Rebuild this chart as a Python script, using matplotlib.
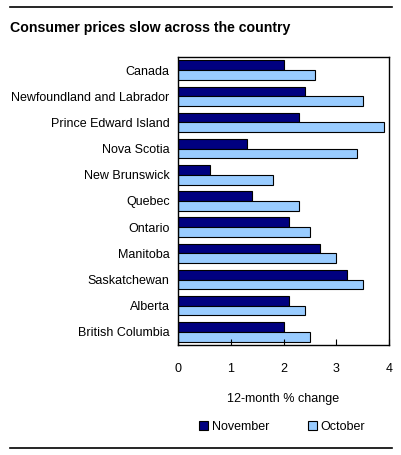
import matplotlib
matplotlib.use("Agg")
import matplotlib.pyplot as plt
from matplotlib.lines import Line2D
import numpy as np

plt.rcParams['font.family'] = ['Liberation Sans', 'DejaVu Sans']

regions = ["Canada", "Newfoundland and Labrador", "Prince Edward Island", "Nova Scotia",
           "New Brunswick", "Quebec", "Ontario", "Manitoba", "Saskatchewan", "Alberta",
           "British Columbia"]
november = [2.0, 2.4, 2.3, 1.3, 0.6, 1.4, 2.1, 2.7, 3.2, 2.1, 2.0]
october = [2.6, 3.5, 3.9, 3.4, 1.8, 2.3, 2.5, 3.0, 3.5, 2.4, 2.5]
xticks = [0, 1, 2, 3, 4]

fig = plt.figure(figsize=(4.01, 4.55), dpi=100)
ax = fig.add_axes([178/401, 1-345/455, 211/401, (345-57)/455])

y = np.arange(len(regions))
h = 0.37
ax.barh(y - h/2, november, height=h, color="#000080", edgecolor="black", linewidth=0.8, label="November")
ax.barh(y + h/2, october, height=h, color="#99CCFF", edgecolor="black", linewidth=0.8, label="October")

ax.set_ylim(len(regions) - 0.5, -0.5)
ax.set_xlim(0, 4)
ax.set_yticks(y)
ax.set_yticklabels(regions, fontsize=9)
ax.set_xticks(xticks)
ax.set_xticklabels([str(t) for t in xticks], fontsize=9)
ax.tick_params(axis='x', direction='in', length=4, pad=13)
ax.tick_params(axis='y', length=0, pad=6)
for s in ax.spines.values():
    s.set_linewidth(1.0)
ax.set_xlabel("12-month % change", fontsize=9, labelpad=13)

fig.text(10/401, 1-28/455, "Consumer prices slow across the country", fontsize=10.2,
         fontweight='bold', va='center', ha='left')
fig.add_artist(Line2D([10/401, 392/401], [1-7/455, 1-7/455], color='black', lw=1.2))
fig.add_artist(Line2D([10/401, 392/401], [1-448/455, 1-448/455], color='black', lw=1.2))

handles, labels = ax.get_legend_handles_labels()
fig.legend(handles, labels, loc='center', bbox_to_anchor=(282/401, 1-427/455), ncol=2,
           frameon=False, fontsize=9, handlelength=0.7, handleheight=0.7,
           handletextpad=0.3, columnspacing=3.1)

fig.savefig("out.png", dpi=100)
